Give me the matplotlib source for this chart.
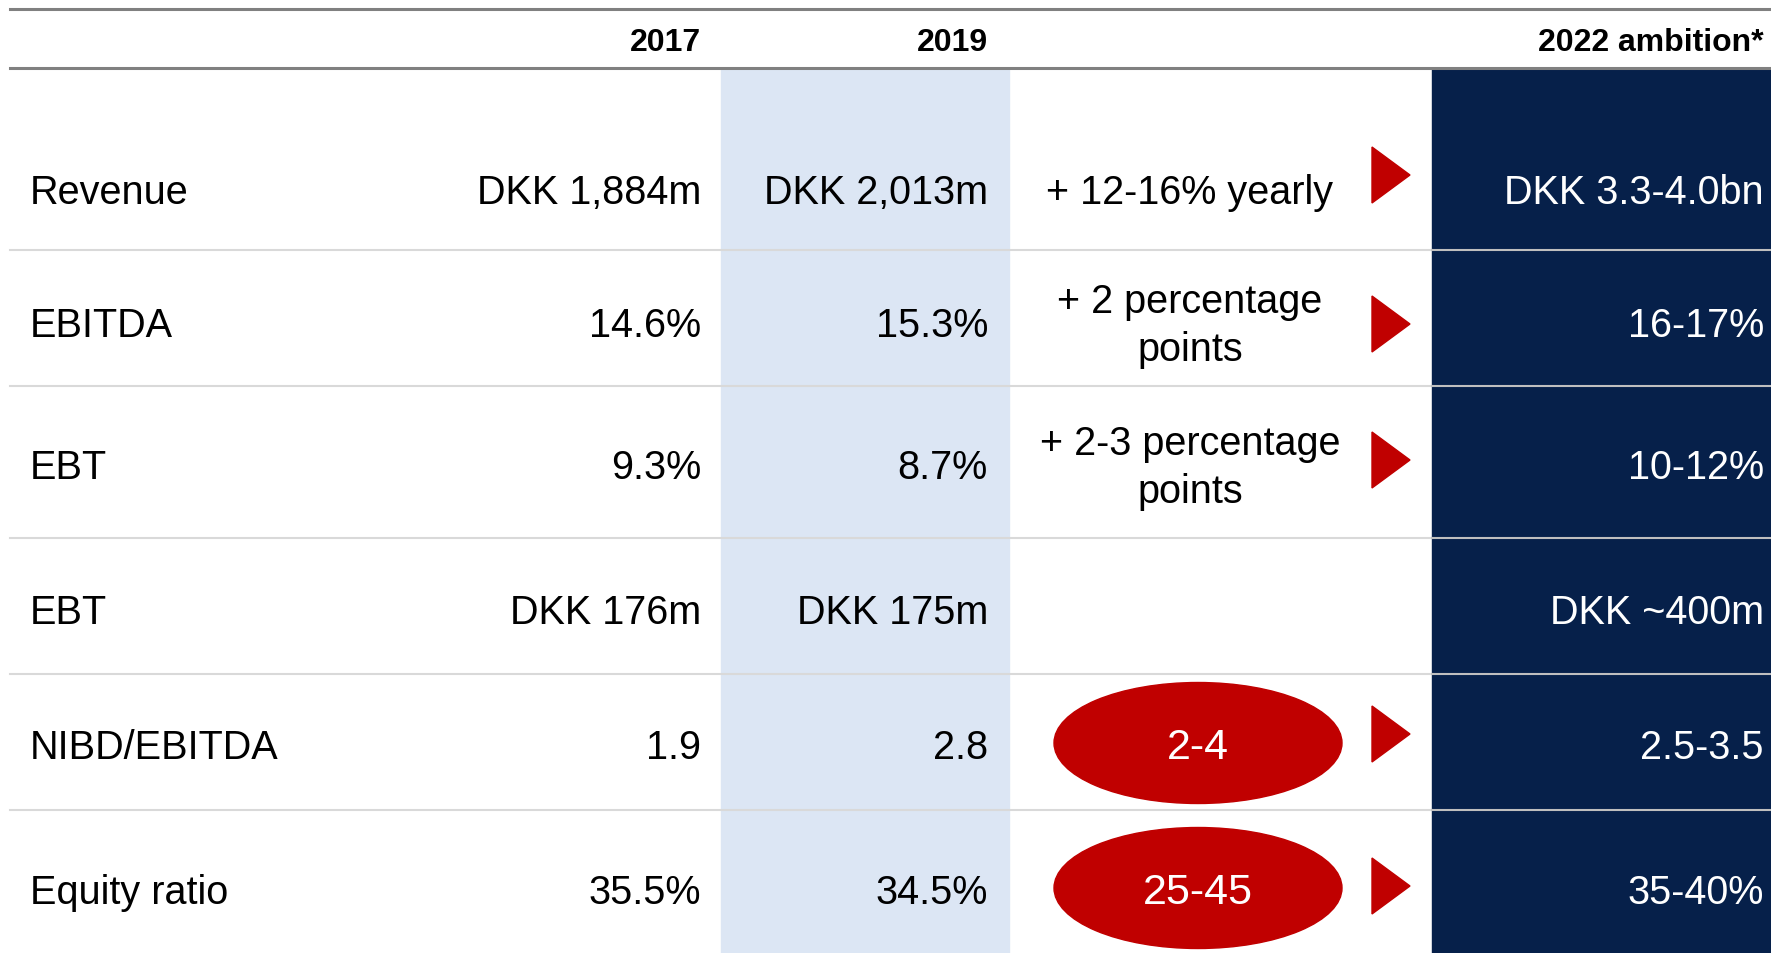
import matplotlib.pyplot as plt
from matplotlib.patches import Rectangle, Ellipse, Polygon

plt.rcParams['font.family'] = ['Liberation Sans', 'DejaVu Sans']

# table content
headers = ["2017", "2019", "2022 ambition*"]
metrics = ["Revenue", "EBITDA", "EBT", "EBT", "NIBD/EBITDA", "Equity ratio"]
val_2017 = ["DKK 1,884m", "14.6%", "9.3%", "DKK 176m", "1.9", "35.5%"]
val_2019 = ["DKK 2,013m", "15.3%", "8.7%", "DKK 175m", "2.8", "34.5%"]
change = ["+ 12-16% yearly", "+ 2 percentage\npoints", "+ 2-3 percentage\npoints", "", "2-4", "25-45"]
in_oval = [False, False, False, False, True, True]
arrow = [True, True, True, False, True, True]
ambition = ["DKK 3.3-4.0bn", "16-17%", "10-12%", "DKK ~400m", "2.5-3.5", "35-40%"]

# layout in pixels
W, H = 1771, 954
row_y = [193, 326, 468, 613, 748, 893]
arrow_y = [176, 325, 461, 0, 735, 887]
seps = [251, 387, 539, 675, 811]
navy = "#06204a"
lightblue = "#dce6f4"
red = "#c00000"

fig = plt.figure(figsize=(W / 100, H / 100), dpi=100)
ax = fig.add_axes([0, 0, 1, 1])
ax.set_xlim(0, W)
ax.set_ylim(H, 0)
ax.axis("off")

# column shading
ax.add_patch(Rectangle((721, 69), 288, H - 69, color=lightblue, zorder=0))
ax.add_patch(Rectangle((1432, 69), W - 1432, H - 69, color=navy, zorder=0))

# header lines
ax.plot([10, W], [10, 10], color="#808080", lw=2.2, zorder=3)
ax.plot([10, W], [69, 69], color="#808080", lw=2.2, zorder=3)
for y in seps:
    ax.plot([10, 1432], [y, y], color="#d9d9d9", lw=1.5, zorder=1)
    ax.plot([1432, W], [y, y], color="#bfbfbf", lw=1.5, zorder=1)

# headers
hx = [701, 988, 1764]
for x, h in zip(hx, headers):
    ax.text(x, 43, h, ha="right", va="center", fontsize=23, fontweight="bold")

fs = 28.5
for i in range(len(metrics)):
    y = row_y[i]
    ax.text(30, y, metrics[i], ha="left", va="center", fontsize=fs)
    ax.text(701, y, val_2017[i], ha="right", va="center", fontsize=fs)
    ax.text(988, y, val_2019[i], ha="right", va="center", fontsize=fs)
    if in_oval[i]:
        ax.add_patch(Ellipse((1198, y - 4), 288, 121, color=red, zorder=2))
        ax.text(1198, y, change[i], ha="center", va="center", fontsize=31, color="white", zorder=3)
    elif change[i]:
        ax.text(1190, y, change[i], ha="center", va="center", fontsize=fs,
                multialignment="center", linespacing=1.35)
    if arrow[i]:
        ay = arrow_y[i]
        ax.add_patch(Polygon([(1372, ay - 28), (1410, ay), (1372, ay + 28)], closed=True,
                             color=red, zorder=2))
    ax.text(1764, y, ambition[i], ha="right", va="center", fontsize=fs, color="white")

fig.savefig("out.png", dpi=100)
